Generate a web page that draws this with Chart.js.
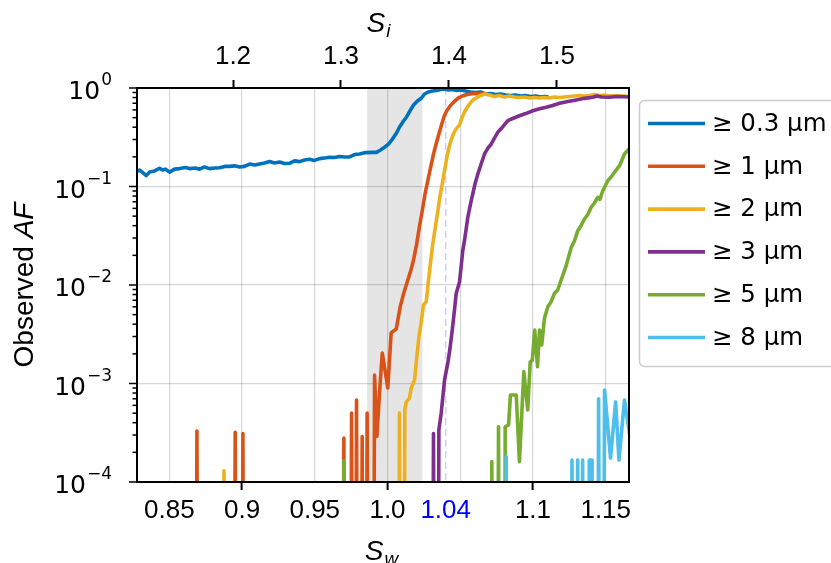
<!DOCTYPE html>
<html>
<head>
<meta charset="utf-8">
<script src="https://cdn.jsdelivr.net/npm/chart.js@4.4.1/dist/chart.umd.min.js"></script>
<style>
  html, body { margin: 0; padding: 0; background: #fff; }
</style>
</head>
<body>
<canvas id="chartCanvas" width="831" height="563"></canvas>
<script>
// sizes / legend
var sizeLabels = ['\u2265 0.3 \u00b5m', '\u2265 1 \u00b5m', '\u2265 2 \u00b5m', '\u2265 3 \u00b5m', '\u2265 5 \u00b5m', '\u2265 8 \u00b5m'];
var sizeColors = ['#0072BD', '#D95319', '#EDB120', '#7E2F8E', '#77AC30', '#4DBEEE'];

// S_w values and observed AF for each size (0 = no counts, clipped off the log axis)
var sw03 = [0.8275,0.8296,0.8316,0.8342,0.8364,0.8399,0.8433,0.8454,0.8474,0.8502,0.8536,0.8570,0.8612,0.8639,0.8680,0.8708,0.8742,0.8777,0.8811,0.8845,0.8880,0.8914,0.8948,0.8983,0.9017,0.9052,0.9086,0.9120,0.9155,0.9189,0.9223,0.9258,0.9292,0.9326,0.9361,0.9395,0.9430,0.9464,0.9498,0.9533,0.9567,0.9601,0.9636,0.9670,0.9704,0.9739,0.9773,0.9808,0.9849,0.9890,0.9924,0.9952,0.9979,1.0007,1.0034,1.0062,1.0082,1.0110,1.0131,1.0158,1.0179,1.0206,1.0234,1.0254,1.0282,1.0309,1.0337,1.0364,1.0392,1.0419,1.0447,1.0474,1.0502,1.0536,1.0570,1.0605,1.0639,1.0674,1.0708,1.0742,1.0777,1.0811,1.0845,1.0880,1.0914,1.0948,1.0983,1.1017,1.1052,1.1086,1.1100];
var af03 = [0.141,0.147,0.139,0.129,0.140,0.144,0.153,0.147,0.150,0.140,0.150,0.152,0.156,0.152,0.154,0.150,0.158,0.152,0.154,0.155,0.160,0.160,0.162,0.158,0.160,0.169,0.165,0.169,0.173,0.179,0.173,0.177,0.171,0.172,0.182,0.179,0.186,0.189,0.184,0.192,0.195,0.198,0.197,0.202,0.199,0.200,0.211,0.214,0.221,0.222,0.222,0.235,0.250,0.270,0.303,0.349,0.399,0.462,0.508,0.598,0.672,0.738,0.792,0.869,0.911,0.932,0.943,0.966,0.977,0.954,0.966,0.943,0.954,0.932,0.911,0.900,0.911,0.869,0.879,0.859,0.869,0.849,0.839,0.849,0.829,0.839,0.820,0.829,0.810,0.820,0.810];

var sw1 = [0.8680,0.8690,0.8700, 0.8943,0.8953,0.8963, 0.8996,0.9006,0.9016, 0.9690,0.9700,0.9710, 0.9743,0.9753,0.9763, 0.9777,0.9787,0.9797, 0.9816,0.9826,0.9836, 0.9850,0.9860,0.9870,
  0.9900,0.9911,0.9927,0.9945,0.9964,0.9985,1.0002,1.0025,1.0040,1.0060,1.0087,1.0112,1.0140,1.0160,1.0178,1.0200,1.0219,1.0240,1.0258,1.0280,1.0297,1.0315,1.0334,1.0355,1.0373,1.0390,1.0407,1.0435,1.0464,1.0492,1.0521,1.0545,1.0570,1.0600,1.0625,1.0650,1.0680];
var af1 = [0,3.3e-4,0, 0,3.2e-4,0, 0,3.1e-4,0, 0,2.8e-4,0, 0,5.0e-4,0, 0,6.8e-4,0, 0,2.9e-4,0, 0,5.0e-4,0,
  0,1.22e-3,2.9e-4,8e-4,2.04e-3,1.3e-3,9.0e-4,3.26e-3,3.4e-3,3.57e-3,6.0e-3,8.3e-3,0.0113,0.0140,0.0177,0.026,0.0388,0.058,0.084,0.12,0.158,0.21,0.27,0.35,0.431,0.52,0.588,0.67,0.743,0.80,0.835,0.86,0.869,0.88,0.875,0.87,0.868];

var sw2 = [0.8866,0.8876,0.8886, 1.0072,1.0082,1.0092,
  1.0112,1.0119,1.0129,1.0151,1.0163,1.0186,1.0199,1.0215,1.0232,1.0247,1.0266,1.0282,1.0296,1.0311,1.0328,1.0346,1.0360,1.0376,1.0392,1.0408,1.0423,1.0438,1.0452,1.0467,1.0481,1.0495,1.0512,1.0529,1.0546,1.0564,1.0581,1.0598,1.0615,1.0632,1.0650,1.0667,1.0701,1.0735,1.0770,1.0804,1.0838,1.0873,1.0907,1.0942,1.0976,1.1010,1.1045,1.1079,1.1113,1.1148,1.1182,1.1216,1.1251,1.1285,1.1320,1.1354,1.1388,1.1423,1.1457,1.1491,1.1526,1.1560,1.1595,1.1629,1.1656];
var af2 = [0,1.3e-4,0, 0,5.0e-4,0,
  0,5.5e-4,6.5e-4,7.1e-4,9.0e-4,1.09e-3,1.73e-3,2.9e-3,4.24e-3,6.26e-3,6.77e-3,0.01125,0.017,0.0261,0.038,0.0568,0.078,0.106,0.145,0.198,0.25,0.297,0.34,0.375,0.40,0.42,0.50,0.571,0.63,0.688,0.74,0.773,0.80,0.829,0.85,0.869,0.849,0.820,0.839,0.810,0.829,0.810,0.801,0.810,0.792,0.801,0.792,0.801,0.792,0.810,0.801,0.810,0.820,0.829,0.839,0.829,0.839,0.859,0.839,0.849,0.829,0.839,0.829,0.829,0.820];

var sw3 = [1.0306,1.0316,1.0326,
  1.0346,1.0353,1.0369,1.0392,1.0414,1.0430,1.0445,1.0460,1.0472,1.0495,1.0518,1.0529,1.0552,1.0570,1.0586,1.0604,1.0621,1.0644,1.0667,1.0690,1.0713,1.0735,1.0758,1.0790,1.0827,1.0860,1.0907,1.0950,1.0999,1.1045,1.1091,1.1135,1.1182,1.1240,1.1297,1.1355,1.1411,1.1440,1.1470,1.1526,1.1580,1.1629,1.1656];
var af3 = [0,3.1e-4,0,
  0,3.4e-4,5.0e-4,1.09e-3,1.6e-3,2.3e-3,3.49e-3,5.5e-3,8.2e-3,0.0107,0.0227,0.0282,0.0487,0.066,0.0839,0.11,0.134,0.17,0.214,0.245,0.270,0.31,0.355,0.40,0.466,0.49,0.523,0.55,0.588,0.615,0.637,0.665,0.699,0.73,0.756,0.785,0.805,0.83,0.81,0.805,0.82,0.816,0.81];

var sw5 = [0.9690,0.9700,0.9710, 1.0707,1.0717,1.0727, 1.0753,1.0763,1.0773,
  1.0802,1.0809,1.0832,1.0845,1.0885,1.0907,1.0937,1.0964,1.0981,1.0995,1.1012,1.1031,1.1045,1.1060,1.1079,1.1102,1.1125,1.1148,1.1170,1.1194,1.1228,1.1263,1.1285,1.1308,1.1330,1.1354,1.1377,1.1400,1.1422,1.1445,1.1460,1.1480,1.1514,1.1537,1.1560,1.1595,1.1629,1.1660];
var af5 = [0,1.64e-4,0, 0,1.61e-4,0, 0,3.64e-4,0,
  0,3.64e-4,3.79e-4,7.64e-4,7.64e-4,1.61e-4,1.32e-3,5.38e-4,1.66e-3,1.72e-3,3.49e-3,1.48e-3,3.49e-3,2.46e-3,4.59e-3,6.02e-3,6.77e-3,8.24e-3,8.9e-3,0.01125,0.0157,0.0241,0.028,0.0356,0.040,0.0468,0.052,0.0615,0.068,0.0777,0.074,0.0906,0.1146,0.125,0.1394,0.1626,0.2138,0.24];

var sw8 = [1.0806,1.0816,1.0826, 1.1258,1.1268,1.1278, 1.1297,1.1307,1.1317, 1.1331,1.1341,1.1351, 1.1377,1.1387,1.1406,1.1416,
  1.1442,1.1451,1.1462,1.1480,1.1492,1.1533,1.1568,1.1591,1.1629,1.1665];
var af8 = [0,1.81e-4,0, 0,1.67e-4,0, 0,1.67e-4,0, 0,1.67e-4,0, 0,1.67e-4,1.67e-4,0,
  0,7.0e-4,0,0,8.6e-4,1.75e-4,6.5e-4,1.67e-4,6.8e-4,3.0e-4];

// axes
var swMin = 0.8278, swMax = 1.166;
var siMin = 1.1111, siMax = 1.5667;
var swTicks = [0.85, 0.9, 0.95, 1.0, 1.04, 1.05, 1.1, 1.15];
var swTickLabels = ['0.85', '0.9', '0.95', '1.0', '1.04', '', '1.1', '1.15'];
var swMajor = [0.9, 1.0, 1.1];
var swMarked = 1.04;
var siTicks = [1.2, 1.3, 1.4, 1.5];
var siTickLabels = ['1.2', '1.3', '1.4', '1.5'];
var afTickExps = [0, -1, -2, -3, -4];
var shadedBand = [0.986, 1.024];

var CLIP_FLOOR = 1e-8;
var gridColor = 'rgba(0,0,0,0.16)';
var LINE_W = 3.6;

function near(a, b) { return Math.abs(a - b) < 1e-6; }
function isDecade(v) { var l = Math.log10(v); return Math.abs(l - Math.round(l)) < 1e-6; }
function toPoints(xs, ys) {
  return xs.map(function (x, i) { return { x: x, y: ys[i] > 0 ? ys[i] : CLIP_FLOOR }; });
}

var series = [[sw03, af03], [sw1, af1], [sw2, af2], [sw3, af3], [sw5, af5], [sw8, af8]];

var datasets = sizeLabels.map(function (label, i) {
  return {
    label: label,
    data: toPoints(series[i][0], series[i][1]),
    borderColor: sizeColors[i],
    backgroundColor: sizeColors[i],
    borderWidth: LINE_W,
    pointRadius: 0,
    tension: 0,
    fill: false,
    borderJoinStyle: 'round',
    borderCapStyle: 'round',
    order: sizeLabels.length - i
  };
});

var decorations = {
  id: 'decorations',
  beforeDatasetsDraw: function (chart) {
    var ctx = chart.ctx, a = chart.chartArea, x = chart.scales.x;
    ctx.save();
    var x0 = x.getPixelForValue(shadedBand[0]), x1 = x.getPixelForValue(shadedBand[1]);
    ctx.fillStyle = 'rgba(0,0,0,0.1)';
    ctx.fillRect(x0, a.top, x1 - x0, a.bottom - a.top);
    var xm = x.getPixelForValue(swMarked);
    ctx.strokeStyle = 'rgba(0,0,255,0.2)';
    ctx.lineWidth = 1.5;
    ctx.setLineDash([7, 4]);
    ctx.beginPath();
    ctx.moveTo(xm, a.top);
    ctx.lineTo(xm, a.bottom);
    ctx.stroke();
    ctx.restore();
  },
  afterDraw: function (chart) {
    var ctx = chart.ctx, a = chart.chartArea, y = chart.scales.y;
    ctx.save();
    // frame
    ctx.strokeStyle = '#000';
    ctx.lineWidth = 2;
    ctx.strokeRect(a.left, a.top, a.right - a.left, a.bottom - a.top);

    // y ticks (major + minor)
    ctx.lineWidth = 1.5;
    for (var e = -4; e <= 0; e++) {
      for (var m = 1; m <= 9; m++) {
        var v = m * Math.pow(10, e);
        if (v > 1.0000001) break;
        var py = y.getPixelForValue(v);
        ctx.beginPath();
        ctx.moveTo(a.left - (m === 1 ? 8 : 4.5), py);
        ctx.lineTo(a.left, py);
        ctx.stroke();
      }
    }
    // y tick labels 10^n
    ctx.fillStyle = '#000';
    afTickExps.forEach(function (ex) {
      var py = y.getPixelForValue(Math.pow(10, ex));
      var expTxt = ex === 0 ? '0' : '\u2212' + (-ex);
      ctx.font = '17px "DejaVu Sans"';
      var ew = ctx.measureText(expTxt).width;
      var right = a.left - 25;
      ctx.textAlign = 'left';
      ctx.textBaseline = 'alphabetic';
      ctx.fillText(expTxt, right - ew, py - 3);
      ctx.font = '25px "DejaVu Sans"';
      ctx.textAlign = 'right';
      ctx.fillText('10', right - ew - 1, py + 11);
    });

    // y title: Observed AF
    ctx.save();
    ctx.translate(33, (a.top + a.bottom) / 2);
    ctx.rotate(-Math.PI / 2);
    ctx.font = '28px "Liberation Sans"';
    var w1 = ctx.measureText('Observed ').width;
    ctx.font = 'italic 28px "Liberation Sans"';
    var w2 = ctx.measureText('AF').width;
    ctx.textAlign = 'left';
    ctx.textBaseline = 'alphabetic';
    ctx.font = '28px "Liberation Sans"';
    ctx.fillText('Observed ', -(w1 + w2) / 2, 0);
    ctx.font = 'italic 28px "Liberation Sans"';
    ctx.fillText('AF', -(w1 + w2) / 2 + w1, 0);
    ctx.restore();

    // x titles S_w (bottom), S_i (top)
    function subTitle(base, sub, cx, baseY) {
      ctx.font = 'italic 28px "Liberation Sans"';
      var bw = ctx.measureText(base).width;
      ctx.font = 'italic 19px "Liberation Sans"';
      var sw = ctx.measureText(sub).width;
      var x0 = cx - (bw + sw) / 2;
      ctx.textAlign = 'left';
      ctx.textBaseline = 'alphabetic';
      ctx.font = 'italic 28px "Liberation Sans"';
      ctx.fillText(base, x0, baseY);
      ctx.font = 'italic 19px "Liberation Sans"';
      ctx.fillText(sub, x0 + bw + 1, baseY + 5);
    }
    subTitle('S', 'w', 381, 560);
    subTitle('S', 'i', 378, 32);

    // legend
    var lx = 639.5, ly = 100.5, lw = 200, lh = 266, r = 5;
    ctx.beginPath();
    ctx.moveTo(lx + r, ly);
    ctx.lineTo(lx + lw - r, ly);
    ctx.arcTo(lx + lw, ly, lx + lw, ly + r, r);
    ctx.lineTo(lx + lw, ly + lh - r);
    ctx.arcTo(lx + lw, ly + lh, lx + lw - r, ly + lh, r);
    ctx.lineTo(lx + r, ly + lh);
    ctx.arcTo(lx, ly + lh, lx, ly + lh - r, r);
    ctx.lineTo(lx, ly + r);
    ctx.arcTo(lx, ly, lx + r, ly, r);
    ctx.closePath();
    ctx.fillStyle = 'rgba(255,255,255,0.9)';
    ctx.fill();
    ctx.strokeStyle = '#cccccc';
    ctx.lineWidth = 1.5;
    ctx.stroke();
    chart.data.datasets.forEach(function (ds, i) {
      var ry = 123.5 + i * 42.8;
      ctx.strokeStyle = ds.borderColor;
      ctx.lineWidth = LINE_W;
      ctx.beginPath();
      ctx.moveTo(648, ry);
      ctx.lineTo(705, ry);
      ctx.stroke();
      ctx.fillStyle = '#000';
      ctx.font = '24.5px "DejaVu Sans"';
      ctx.textAlign = 'left';
      ctx.textBaseline = 'middle';
      ctx.fillText(ds.label, 712, ry + 1);
    });
    ctx.restore();
  }
};

var ctx = document.getElementById('chartCanvas').getContext('2d');
var chart = new Chart(ctx, {
  type: 'line',
  data: { datasets: datasets },
  options: {
    responsive: false,
    animation: false,
    layout: { padding: { left: 0, right: 202, top: 0, bottom: 0 } },
    plugins: {
      legend: { display: false },
      tooltip: { enabled: false }
    },
    scales: {
      x: {
        type: 'linear',
        position: 'bottom',
        min: swMin,
        max: swMax,
        afterBuildTicks: function (s) { s.ticks = swTicks.map(function (v) { return { value: v }; }); },
        afterFit: function (s) { s.height = 81; },
        ticks: {
          autoSkip: false,
          maxRotation: 0,
          padding: 5,
          font: { family: 'Liberation Sans', size: 26 },
          color: function (c) { return c.tick && near(c.tick.value, swMarked) ? '#0000ff' : '#000'; },
          callback: function (v, i) { return swTickLabels[i]; }
        },
        grid: {
          color: function (c) { return c.tick && near(c.tick.value, swMarked) ? 'rgba(0,0,0,0)' : gridColor; },
          lineWidth: 1.2,
          tickLength: 8,
          tickWidth: 2,
          tickColor: function (c) {
            return c.tick && swMajor.some(function (v) { return near(v, c.tick.value); }) ? '#000' : 'rgba(0,0,0,0)';
          }
        },
        border: { display: true, color: '#000', width: 2 }
      },
      xTop: {
        type: 'linear',
        position: 'top',
        min: siMin,
        max: siMax,
        afterBuildTicks: function (s) { s.ticks = siTicks.map(function (v) { return { value: v }; }); },
        afterFit: function (s) { s.height = 88; },
        ticks: {
          autoSkip: false,
          maxRotation: 0,
          padding: 8,
          color: '#000',
          font: { family: 'Liberation Sans', size: 26 },
          callback: function (v, i) { return siTickLabels[i]; }
        },
        grid: { drawOnChartArea: false, tickLength: 8, tickWidth: 2, tickColor: '#000', color: '#000' },
        border: { display: true, color: '#000', width: 2 }
      },
      y: {
        type: 'logarithmic',
        min: 1e-4,
        max: 1,
        afterBuildTicks: function (s) {
          var t = [];
          for (var e = -4; e <= 0; e++) {
            for (var m = 1; m <= 9; m++) {
              var v = m * Math.pow(10, e);
              if (v > 1.0000001) break;
              t.push({ value: v });
            }
          }
          s.ticks = t;
        },
        afterFit: function (s) { s.width = 137; },
        ticks: { display: false },
        grid: {
          color: function (c) { return c.tick && isDecade(c.tick.value) ? gridColor : 'rgba(0,0,0,0)'; },
          lineWidth: 1.2,
          drawTicks: false
        },
        border: { display: true, color: '#000', width: 2 }
      }
    }
  },
  plugins: [decorations]
});
</script>
</body>
</html>
